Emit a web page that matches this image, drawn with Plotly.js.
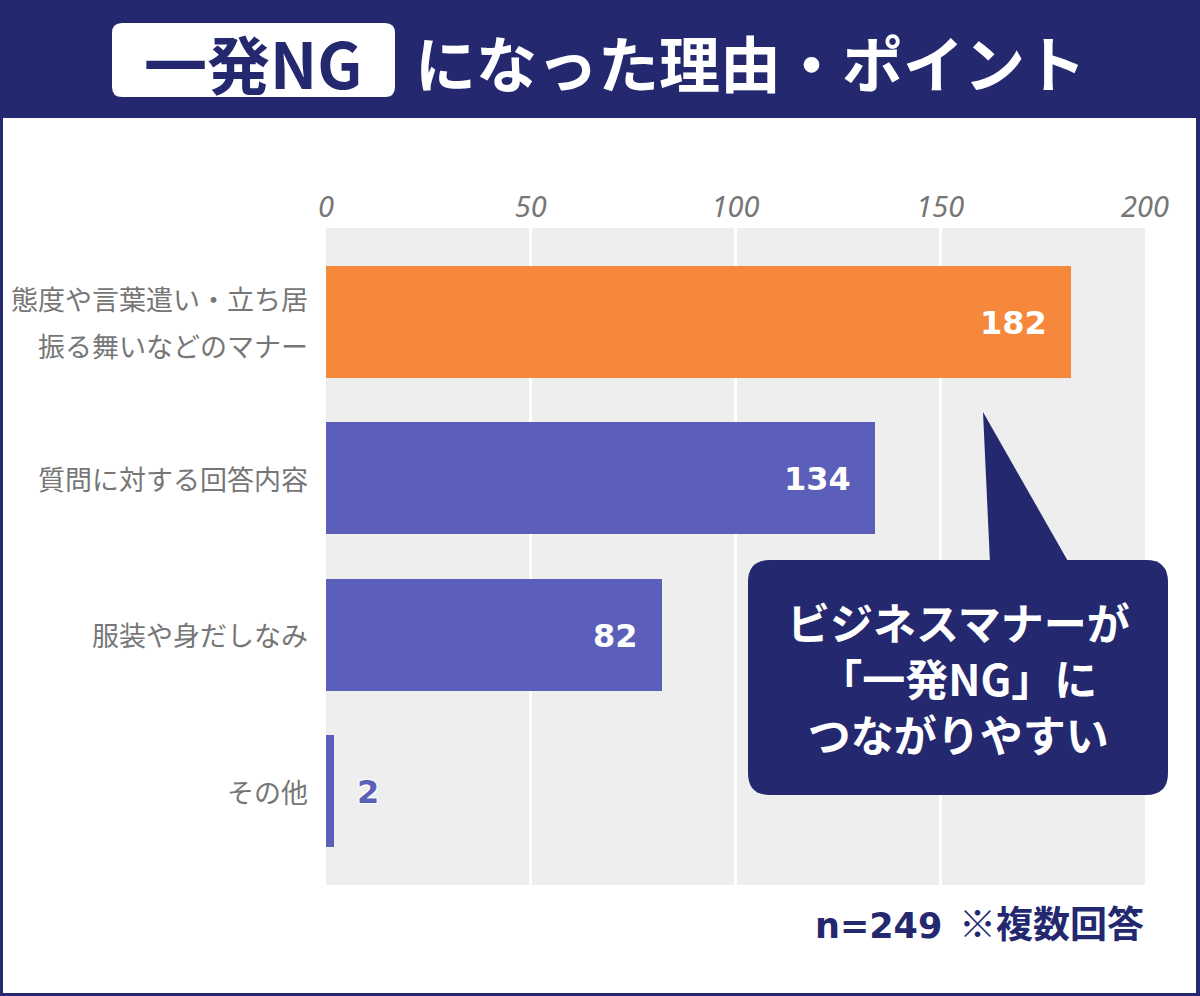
<!DOCTYPE html>
<html>
<head>
<meta charset="utf-8">
<script src="https://cdn.plot.ly/plotly-3.0.1.min.js"></script>
<style>
  html, body { margin: 0; padding: 0; background: #ffffff; }
  #chart { width: 1200px; height: 996px; }
</style>
</head>
<body>
<div id="chart"></div>
<script>
// Survey: reasons an interview answer became an instant "NG" (n=249, multiple answers)
const categories = [
  '態度や言葉遣い・立ち居\n振る舞いなどのマナー',
  '質問に対する回答内容',
  '服装や身だしなみ',
  'その他'
];
const counts = [182, 134, 82, 2];
const tickValues = [0, 50, 100, 150, 200];
const tickLabels = ['0', '50', '100', '150', '200'];

const titleTag = '一発NG';
const titleRest = 'になった理由・ポイント';
const calloutLines = ['ビジネスマナーが', '「一発NG」に', 'つながりやすい'];
const sampleNote = 'n=249';
const answerNote = '※複数回答';

// ---- styling ----
const NAVY = '#23286f';
const ORANGE = '#f5883b';
const BLUE = '#5b5fb9';
const GRAY_TEXT = '#767676';
const JP = '"Noto Sans CJK JP", "Noto Sans", sans-serif';
const NUM = '"DejaVu Sans", sans-serif';

const W = 1200, H = 996;
const M = { l: 326, r: 55, t: 228, b: 111 };
const PW = W - M.l - M.r;
const PH = H - M.t - M.b;
const px = x => (x - M.l) / PW;
const py = y => (H - M.b - y) / PH;

function roundRect(x0, y0, x1, y1, r) {
  const X = v => px(v).toFixed(5), Y = v => py(v).toFixed(5);
  return 'M' + X(x0 + r) + ',' + Y(y0) +
    ' L' + X(x1 - r) + ',' + Y(y0) +
    ' Q' + X(x1) + ',' + Y(y0) + ' ' + X(x1) + ',' + Y(y0 + r) +
    ' L' + X(x1) + ',' + Y(y1 - r) +
    ' Q' + X(x1) + ',' + Y(y1) + ' ' + X(x1 - r) + ',' + Y(y1) +
    ' L' + X(x0 + r) + ',' + Y(y1) +
    ' Q' + X(x0) + ',' + Y(y1) + ' ' + X(x0) + ',' + Y(y1 - r) +
    ' L' + X(x0) + ',' + Y(y0 + r) +
    ' Q' + X(x0) + ',' + Y(y0) + ' ' + X(x0 + r) + ',' + Y(y0) + ' Z';
}
function poly(pts) {
  return pts.map((p, i) => (i ? 'L' : 'M') + px(p[0]).toFixed(5) + ',' + py(p[1]).toFixed(5)).join(' ') + ' Z';
}
function pxRect(x0, y0, x1, y1, color, layer) {
  return { type: 'rect', xref: 'paper', yref: 'paper', layer: layer || 'below',
    x0: px(x0), x1: px(x1), y0: py(y1), y1: py(y0),
    fillcolor: color, line: { width: 0 } };
}

const barColors = counts.map((v, i) => i === 0 ? ORANGE : BLUE);

const trace = {
  type: 'bar',
  orientation: 'h',
  x: counts,
  y: categories,
  width: 0.717,
  marker: { color: barColors, line: { width: 0 } },
  hoverinfo: 'skip'
};

const annotations = [];

// category labels, one annotation per line, right-aligned against the plot
categories.forEach(cat => {
  const lines = cat.split('\n');
  const gap = 47;
  lines.forEach((ln, k) => {
    annotations.push({
      xref: 'paper', yref: 'y', x: 0, y: cat,
      xanchor: 'right', yanchor: 'middle', xshift: -16,
      yshift: ((lines.length - 1) / 2 - k) * gap,
      text: ln, showarrow: false,
      font: { family: JP, size: 27, color: GRAY_TEXT }
    });
  });
});

// value labels
counts.forEach((v, i) => {
  const inside = v > 20;
  annotations.push({
    xref: 'x', yref: 'y', x: v, y: categories[i],
    xanchor: inside ? 'right' : 'left', yanchor: 'middle',
    xshift: inside ? -22 : 21, yshift: -1,
    text: String(v), showarrow: false,
    font: inside
      ? { family: NUM, size: 32, color: '#ffffff', weight: 700 }
      : { family: NUM, size: 32, color: BLUE, weight: 700,
          shadow: '1px 1px 1px #fff, -1px -1px 1px #fff, 1px -1px 1px #fff, -1px 1px 1px #fff' }
  });
});

// header title
annotations.push({
  xref: 'paper', yref: 'paper', x: px(253), y: py(61),
  xanchor: 'center', yanchor: 'middle', showarrow: false,
  text: titleTag,
  font: { family: JP, size: 63, color: NAVY, weight: 700 }
});
annotations.push({
  xref: 'paper', yref: 'paper', x: px(413), y: py(62),
  xanchor: 'left', yanchor: 'middle', showarrow: false,
  text: titleRest,
  font: { family: JP, size: 61, color: '#ffffff', weight: 700 }
});

// callout text
annotations.push({
  xref: 'paper', yref: 'paper', x: px(958), y: py(677),
  xanchor: 'center', yanchor: 'middle', showarrow: false, align: 'center',
  text: calloutLines.join('<br>'),
  font: { family: JP, size: 43, color: '#ffffff', weight: 700 }
});

// footnote
annotations.push({
  xref: 'paper', yref: 'paper', x: px(1146), y: py(922),
  xanchor: 'right', yanchor: 'middle', showarrow: false,
  text: '<span style="font-family:' + NUM.replace(/"/g, "'") + ';font-size:35px">' + sampleNote + '</span>  ' + answerNote,
  font: { family: JP, size: 37, color: NAVY, weight: 700 }
});

const shapes = [
  pxRect(0, 0, W, 118, NAVY),
  pxRect(0, 0, 3, H, NAVY),
  pxRect(W - 4, 0, W, H, NAVY),
  pxRect(0, H - 3, W, H, NAVY),
  { type: 'path', xref: 'paper', yref: 'paper', layer: 'below',
    path: roundRect(112, 23, 395, 97, 10), fillcolor: '#ffffff', line: { width: 0 } },
  // speech bubble
  { type: 'path', xref: 'paper', yref: 'paper', layer: 'above',
    path: poly([[983, 412], [1069, 563], [990, 563]]), fillcolor: NAVY, line: { width: 0 } },
  { type: 'path', xref: 'paper', yref: 'paper', layer: 'above',
    path: roundRect(748, 560, 1168, 795, 22), fillcolor: NAVY, line: { width: 0 } }
];

const layout = {
  width: W, height: H,
  margin: M,
  paper_bgcolor: '#ffffff',
  plot_bgcolor: '#eeeeee',
  showlegend: false,
  bargap: 0,
  xaxis: {
    side: 'top',
    range: [0, 200],
    tickmode: 'array',
    tickvals: tickValues,
    ticktext: tickLabels,
    ticks: '',
    ticklabelstandoff: 4,
    showgrid: true, gridcolor: '#ffffff', gridwidth: 3,
    zeroline: false, showline: false,
    tickfont: { family: '"Noto Sans", "DejaVu Sans", sans-serif', size: 29, color: GRAY_TEXT, style: 'italic' },
    fixedrange: true
  },
  yaxis: {
    type: 'category',
    categoryorder: 'array',
    categoryarray: categories,
    range: [3.6, -0.6],
    autorange: false,
    showticklabels: false,
    ticks: '',
    showgrid: false, zeroline: false, showline: false,
    fixedrange: true
  },
  shapes: shapes,
  annotations: annotations
};

Plotly.newPlot('chart', [trace], layout, { displayModeBar: false, staticPlot: true });
</script>
</body>
</html>
